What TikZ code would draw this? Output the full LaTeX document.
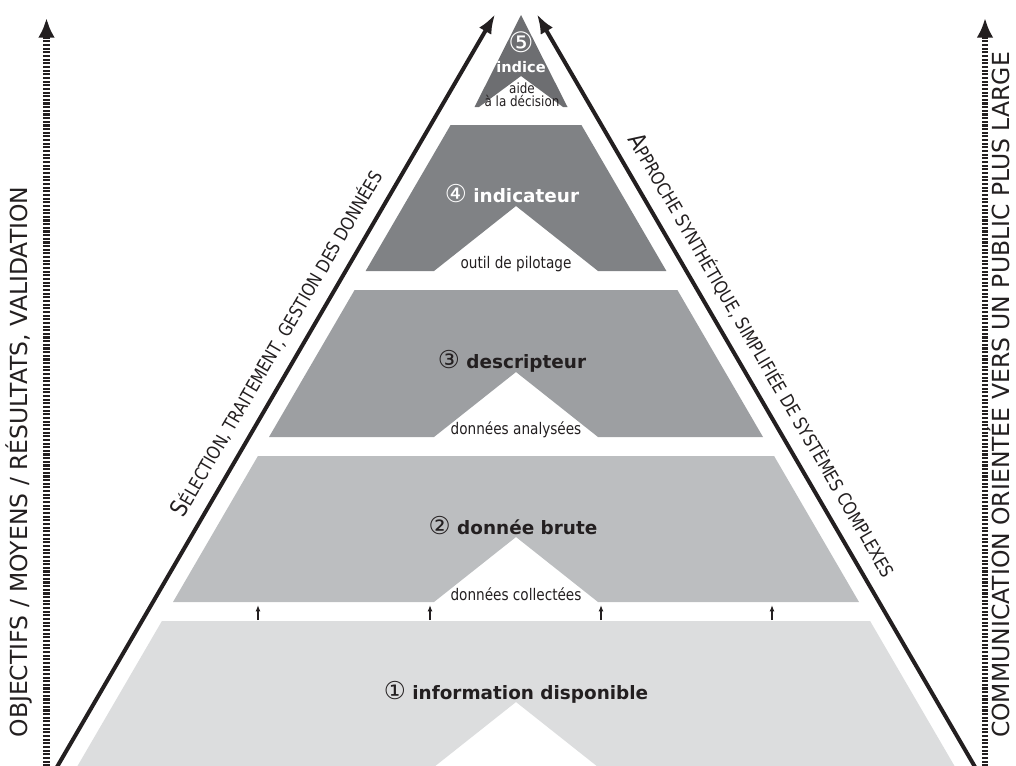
\documentclass[tikz,border=0pt]{standalone}
\usepackage{fontspec}
\setmainfont{DejaVu Sans}
\newfontfamily\narrowfont[FakeStretch=0.85]{DejaVu Sans}
\usepackage{tikz}
\usetikzlibrary{arrows.meta}

\definecolor{lvlone}{HTML}{DCDDDE}
\definecolor{lvltwo}{HTML}{BCBEC0}
\definecolor{lvlthree}{HTML}{9D9FA2}
\definecolor{lvlfour}{HTML}{808285}
\definecolor{lvlfive}{HTML}{6D6E71}
\definecolor{ink}{HTML}{231F20}

\newcommand{\lvl}[2]{{\fontsize{17.5}{16}\selectfont\mdseries #1}\hspace{0.35em}{\bfseries #2}}
\newcommand{\bigsc}[2]{{\narrowfont\fontsize{17}{18}\selectfont #1}{\narrowfont\fontsize{13}{13}\selectfont #2}}

\begin{document}
\begin{tikzpicture}[x=0.025cm,y=-0.025cm,
	mainlab/.style={text=ink,font=\fontsize{13.1}{15}\selectfont},
	sublab/.style={text=ink,font=\narrowfont\fontsize{11.4}{13}\selectfont},
	sidelab/.style={text=ink,font=\fontsize{16.7}{20}\selectfont,rotate=90},
	slantlab/.style={text=ink,anchor=south},
	bigarrow/.style={draw=ink,line width=2.85pt,-{Latex[length=14pt,width=10pt]}},
	dotarrow/.style={draw=ink,line width=4.6pt,dash pattern=on 1.5pt off 1.1pt,-{Latex[length=14pt,width=12pt]}},
	smallarrow/.style={draw=ink,line width=1pt,-{Latex[length=4.5pt,width=3.5pt]}}]
			\tikzstyle{every node}+=[inner sep=0pt]
			\useasboundingbox (0,0) rectangle (1016,765);
			\clip (0,0) rectangle (1016,765);
			\fill [lvlone] (161.9,621) -- (870.1,621) -- (955.1,767) -- (598,767) -- (516,702) -- (434,767) -- (76.9,767) -- cycle;
			\fill [lvltwo] (257.9,456) -- (774.1,456) -- (859,602) -- (598,602) -- (516,537) -- (434,602) -- (173,602) -- cycle;
			\fill [lvlthree] (354.6,290) -- (677.4,290) -- (763,437) -- (598,437) -- (516,372) -- (434,437) -- (269,437) -- cycle;
			\fill [lvlfour] (450.6,125) -- (581.4,125) -- (666.4,271) -- (598,271) -- (516,206) -- (434,271) -- (365.6,271) -- cycle;
			\fill [lvlfive] (521,15) -- (567.5,107) -- (563,107) -- (521,76) -- (479,107) -- (474.5,107) -- cycle;
			\node [mainlab] (info) at (516,692) {\lvl{①}{information disponible}};
			\node [mainlab] (brute) at (513,526) {\lvl{②}{donnée brute}};
			\node [mainlab] (descr) at (512,361) {\lvl{③}{descripteur}};
			\node [mainlab,text=white] (indic) at (512,194) {\lvl{④}{indicateur}};
			\node [text=white,font=\fontsize{20}{16}\selectfont] (five) at (521,42) {⑤};
			\node [text=white,font=\fontsize{10.4}{11}\selectfont\bfseries] (indice) at (521,67) {indice};
			\node [sublab,font=\narrowfont\fontsize{10}{9.3}\selectfont,align=center] (aide) at (522,95) {aide\\à la décision};
			\node [sublab] (collect) at (516,594) {données collectées};
			\node [sublab] (analys) at (516,430) {données analysées};
			\node [sublab] (pilot) at (516,264) {outil de pilotage};
			\foreach \xx [count=\i] in {258,430,601,772} {
				\coordinate (up\i) at (\xx,620);
				\coordinate (tip\i) at (\xx,605);
				\draw [smallarrow] (up\i) -- (tip\i);
			}
			\coordinate (lbase) at (52.3,775);
			\coordinate (ltip) at (495.2,14);
			\coordinate (rbase) at (979.7,775);
			\coordinate (rtip) at (536.8,14);
			\draw [bigarrow] (lbase) -- (ltip);
			\draw [bigarrow] (rbase) -- (rtip);
			\node [slantlab,rotate=59.8] (select) at (285.5,348.5) {\bigsc{S}{ÉLECTION, TRAITEMENT, GESTION DES DONNÉES}};
			\node [slantlab,rotate=-59.8] (synth) at (753.5,360.5) {\bigsc{A}{PPROCHE SYNTHÉTIQUE, SIMPLIFIÉE DE SYSTÈMES COMPLEXES}};
			\coordinate (dlbase) at (46.5,770);
			\coordinate (dltip) at (46.5,18);
			\coordinate (drbase) at (985,770);
			\coordinate (drtip) at (985,18);
			\draw [dotarrow] (dlbase) -- (dltip);
			\draw [dotarrow] (drbase) -- (drtip);
			\node [sidelab] (goals) at (19,462) {OBJECTIFS / MOYENS / RÉSULTATS, VALIDATION};
			\node [sidelab] (commu) at (999,395) {COMMUNICATION ORIENTÉE VERS UN PUBLIC PLUS LARGE};
\end{tikzpicture}
\end{document}
